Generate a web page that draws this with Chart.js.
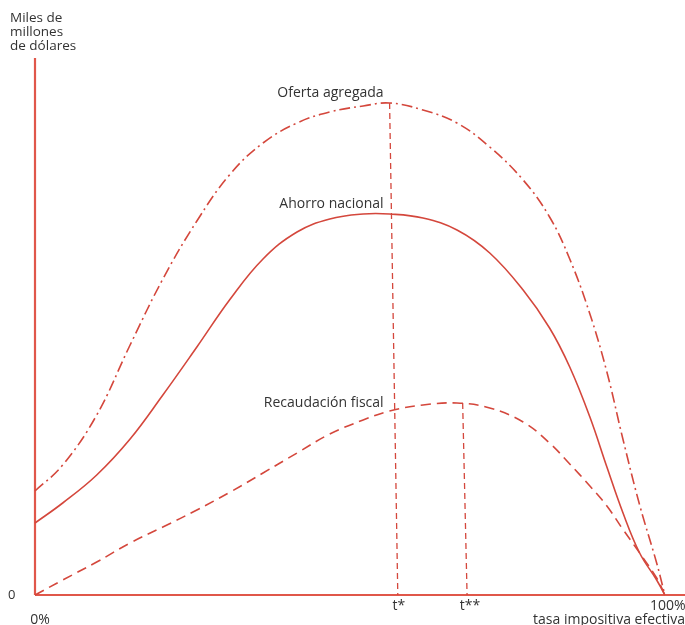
<!DOCTYPE html>
<html>
<head>
<meta charset="utf-8">
<script src="https://cdn.jsdelivr.net/npm/chart.js@4/dist/chart.umd.min.js"></script>
<style>
  body { margin: 0; background: #fff; }
  canvas { display: block; }
</style>
</head>
<body>
<canvas id="laffer" width="685" height="625"></canvas>
<script>
// tasa impositiva efectiva (%) and curve heights (arbitrary units)
const tasa = [0, 4.4, 9.8, 15.1, 20.3, 25.7, 31, 36.2, 41.6, 46.8, 52.1, 56.3, 61.6, 67, 72.2, 77.5, 81.7, 84.9, 88.1, 90.8, 93.3, 96, 98.7, 100];
const ofertaAgregada = [104, 130, 180, 250, 316, 374, 421, 452, 472, 483, 489, 492, 485, 472, 448, 415, 378, 336, 281, 223, 157, 90, 32, 0];
const ahorroNacional = [72, 92, 120, 156, 200, 248, 296, 336, 363, 376, 381, 381, 377, 365, 342, 305, 267, 228, 178, 128, 83, 42, 15, 0];
const recaudacionFiscal = [0, 15, 33, 52, 68, 85, 103, 122, 142, 161, 175, 184, 190, 192, 187, 173, 152, 131, 109, 89, 66, 42, 17, 0];

// t* and t** guide lines: [top x, bottom x], top height
const tStar = [56.3, 57.6];
const tStarTop = 492;
const tStarStar = [67.9, 68.6];
const tStarStarTop = 192;

const xTicks = [0, 57.6, 68.6, 100];
const xTickLabels = ['0%', 't*', 't**', '100%'];

const curveNames = ['Oferta agregada', 'Ahorro nacional', 'Recaudación fiscal'];

const red = '#d4473c';
const axisRed = '#e0574a';

function pts(ys) {
    return tasa.map((t, i) => ({ x: t, y: ys[i] }));
}

const labelsPlugin = {
    id: 'labels',
    afterDraw(chart) {
        const { ctx, scales: { x, y } } = chart;
        ctx.save();
        ctx.fillStyle = '#333';
        ctx.font = '14px "Open Sans", sans-serif';

        // curve names, right aligned just left of t*
        ctx.textAlign = 'right';
        ctx.textBaseline = 'alphabetic';
        const nameX = x.getPixelForValue(tStar[0]) - 6;
        ctx.fillText(curveNames[0], nameX, y.getPixelForValue(tStarTop) - 6);
        ctx.fillText(curveNames[1], nameX, y.getPixelForValue(381) - 6);
        ctx.fillText(curveNames[2], nameX, y.getPixelForValue(184) - 4);

        // y axis title
        ctx.textAlign = 'left';
        ctx.font = '13.5px "Open Sans", sans-serif';
        ctx.fillText('Miles de', 10, 22);
        ctx.fillText('millones', 10, 36);
        ctx.fillText('de dólares', 10, 50);

        // y zero
        ctx.font = '13px "Open Sans", sans-serif';
        ctx.textBaseline = 'middle';
        ctx.fillText('0', 8, y.getPixelForValue(0));

        // x ticks
        ctx.font = '14px "Open Sans", sans-serif';
        ctx.textAlign = 'center';
        xTickLabels.forEach((lbl, i) => {
            let px = x.getPixelForValue(xTicks[i]);
            let py = y.getPixelForValue(0) + 11;
            if (i === 0) { px += 5; py += 14; }
            if (i === 1) { px += 1; }
            if (i === 2) { px += 3; }
            if (i === 3) { px += 3; }
            ctx.fillText(lbl, px, py);
        });

        ctx.textAlign = 'right';
        ctx.textBaseline = 'alphabetic';
        ctx.fillText('tasa impositiva efectiva', 685, 624);
        ctx.restore();
    }
};

new Chart(document.getElementById('laffer'), {
    type: 'scatter',
    data: {
        datasets: [
            {
                label: curveNames[0],
                data: pts(ofertaAgregada),
                borderColor: red,
                borderWidth: 1.6,
                borderDash: [11, 4, 2, 4],
                showLine: true,
                tension: 0.4,
                pointRadius: 0
            },
            {
                label: curveNames[1],
                data: pts(ahorroNacional),
                borderColor: red,
                borderWidth: 1.6,
                showLine: true,
                tension: 0.4,
                pointRadius: 0
            },
            {
                label: curveNames[2],
                data: pts(recaudacionFiscal),
                borderColor: red,
                borderWidth: 1.6,
                borderDash: [10, 6],
                showLine: true,
                tension: 0.4,
                pointRadius: 0
            },
            {
                label: 't*',
                data: [{ x: tStar[0], y: tStarTop }, { x: tStar[1], y: 0 }],
                borderColor: red,
                borderWidth: 1.3,
                borderDash: [6, 4],
                showLine: true,
                pointRadius: 0
            },
            {
                label: 't**',
                data: [{ x: tStarStar[0], y: tStarStarTop }, { x: tStarStar[1], y: 0 }],
                borderColor: red,
                borderWidth: 1.3,
                borderDash: [6, 4],
                showLine: true,
                pointRadius: 0
            },
            {
                label: 'eje x',
                data: [{ x: 0, y: 0 }, { x: 103.2, y: 0 }],
                borderColor: axisRed,
                borderWidth: 2.2,
                showLine: true,
                pointRadius: 0
            },
            {
                label: 'eje y',
                data: [{ x: 0, y: 0 }, { x: 0, y: 537 }],
                borderColor: axisRed,
                borderWidth: 2.2,
                showLine: true,
                pointRadius: 0
            }
        ]
    },
    options: {
        responsive: false,
        animation: false,
        layout: { padding: { left: 35, right: 0, top: 15, bottom: 30 } },
        clip: false,
        scales: {
            x: { type: 'linear', min: 0, max: 103.2, display: false },
            y: { type: 'linear', min: 0, max: 580, display: false }
        },
        plugins: {
            legend: { display: false },
            tooltip: { enabled: false }
        }
    },
    plugins: [labelsPlugin]
});
</script>
</body>
</html>
